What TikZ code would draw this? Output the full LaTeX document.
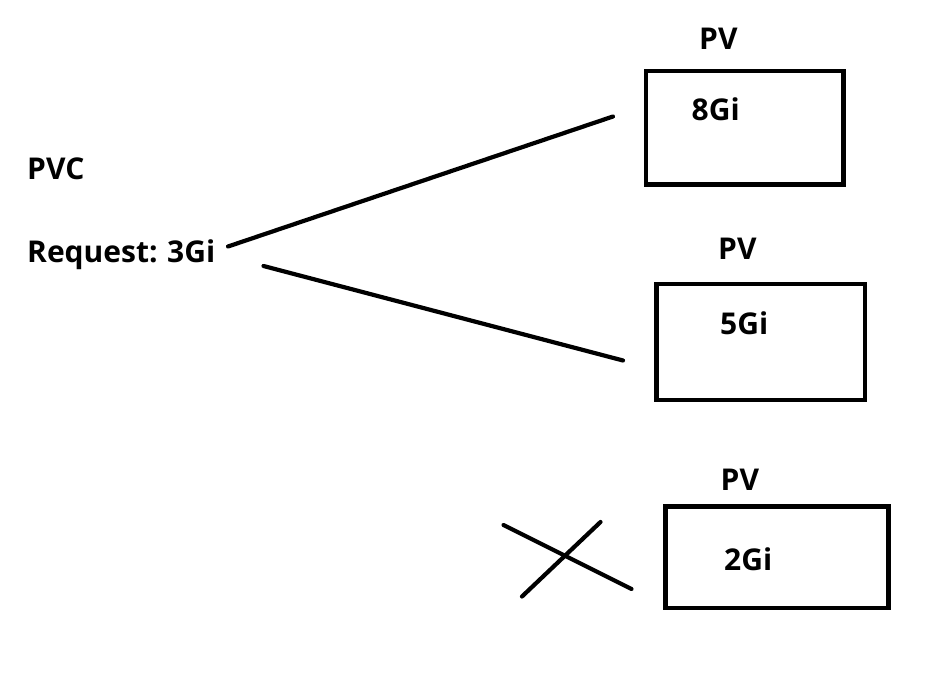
\documentclass[tikz,border=0pt]{standalone}
\usepackage{fontspec}
\setmainfont{Open Sans}
\begin{document}
\begin{tikzpicture}[x=1pt,y=-1pt,
  lbl/.style={anchor=base west,inner sep=0pt,font=\fontsize{30}{35}\selectfont\bfseries},
  stroke/.style={line width=4.2pt,line cap=round},
  pvbox/.style={draw,line width=4.5pt}]
\useasboundingbox[fill=white] (0,0) rectangle (950,684);
% PVC side
\node[lbl] (pvc) at (27,180) {PVC};
\node[lbl] (req) at (27,263) {Request:};
\node[lbl] (size) at (167,263) {3Gi};
% PV boxes
\draw[pvbox] (646,71) rectangle (843.5,184.5);
\node[lbl] (pv1) at (699,49.5) {PV};
\node[lbl] (g8) at (691.5,120.5) {8Gi};
\draw[pvbox] (656.5,284) rectangle (865,400);
\node[lbl] (pv2) at (718,260) {PV};
\node[lbl] (g5) at (720,335) {5Gi};
\draw[pvbox] (665.5,506.5) rectangle (888.5,608);
\node[lbl] (pv3) at (720.5,490) {PV};
\node[lbl] (g2) at (724,570.5) {2Gi};
% connectors
\coordinate (a1) at (228,246.5);
\coordinate (b1) at (613,116.5);
\coordinate (a2) at (263.5,266);
\coordinate (b2) at (623,360.5);
\draw[stroke] (a1) -- (b1);
\draw[stroke] (a2) -- (b2);
% cross
\coordinate (x1) at (503.5,525);
\coordinate (x2) at (631.5,589);
\coordinate (x3) at (522,596.5);
\coordinate (x4) at (600.5,522);
\draw[stroke] (x1) -- (x2);
\draw[stroke] (x3) -- (x4);
\end{tikzpicture}
\end{document}
